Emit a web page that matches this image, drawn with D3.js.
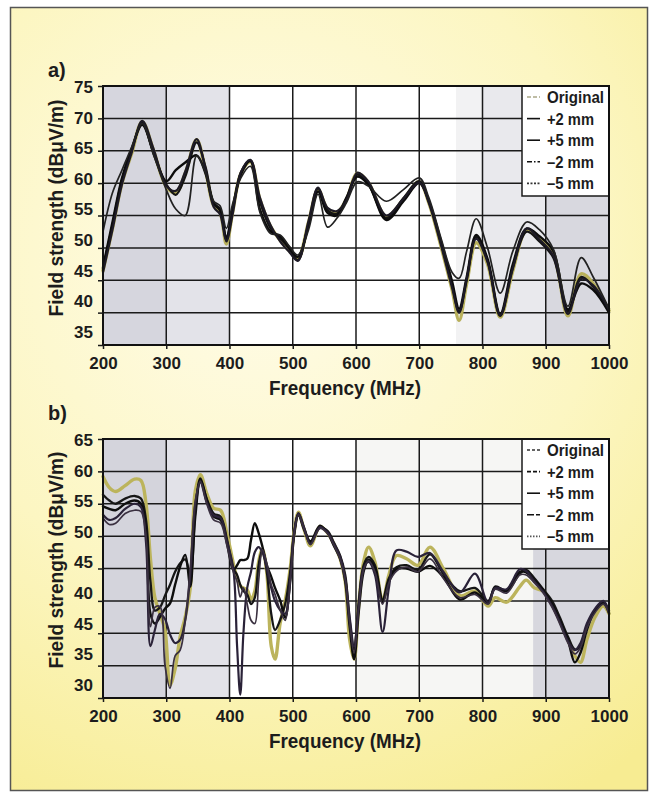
<!DOCTYPE html>
<html>
<head>
<meta charset="utf-8">
<script src="https://cdn.jsdelivr.net/npm/d3@7"></script>
<style>
  body { margin: 0; background: #fff; }
  text { font-family: "Liberation Sans", Arial, sans-serif; font-weight: bold; fill: #1c1c1c; }
</style>
</head>
<body>
<svg id="fig" width="657" height="799"></svg>
<script>
// ---- data ----
var seriesNames = ["Original", "+2 mm", "+5 mm", "\u20132 mm", "\u20135 mm"];
var xTicks = [200, 300, 400, 500, 600, 700, 800, 900, 1000];

var yTicksA = [75, 70, 65, 60, 55, 50, 45, 40, 35];
var yLabelsA = ["75", "70", "65", "60", "55", "50", "45", "40", "35"];
var yTicksB = [65, 60, 55, 50, 45, 40, 35, 30, 25];
var yLabelsB = ["65", "60", "55", "50", "45", "40", "45", "35", "30"];   // as printed

var freqA = [200,215,230,245,262,280,300,315,330,348,362,375,385,395,405,418,433,448,465,480,495,508,525,540,555,570,585,602,620,648,675,700,715,735,752,763,775,790,808,828,848,870,890,912,935,956,975,1000];
var origA = [46.5,53,60,64.5,69.5,65,59.5,58.5,61.5,66.7,62,56.5,55.5,50.6,55.5,61.5,63.3,57.5,53.3,51.2,49.5,48.3,54,59,56,55.5,57.5,61.5,60,54.8,57.5,60.2,57,50,43.5,38.8,44.5,50.8,47.5,39.3,46.5,52.8,51.5,49,39.5,46,44.5,40.3];
var p2A   = [46.8,53.5,60.5,65,69.3,64.5,59.8,58.2,61,66.3,62.5,57,56,51.3,55.8,61.3,63.4,57.2,53,51.5,49.8,48.1,53.8,59.2,55.8,55.3,57.8,61.3,59.8,54.6,57.7,60.3,57.2,50.5,44.2,40.2,45,51.7,48,39.5,47,52.5,51,48.5,40.2,45.5,44,40.6];
var p5A   = [47,54,60.8,65.2,69,64.8,60.3,62,63.2,64.3,61.5,56.8,55.8,51.6,56,61.6,63.5,56,52.5,51.8,50,48.6,53.5,58.7,55.4,55,57.6,61,59.7,54.3,57.2,60,57.3,50.8,44.8,40.6,45.5,52,48.3,39.8,47.5,53,51.8,49.5,40.5,44.5,43.5,40];
var m2A   = [46.2,52.8,59.8,64.6,69.6,65.3,59.6,58.8,61.8,66.8,62.2,56.3,55.2,51,55.2,61.7,63.6,57.8,53.5,51,49.3,48,54.2,59.3,56.2,55.7,57.4,61.6,60.2,55,57.6,60.1,57,50.2,43.8,40,45.2,51.4,47.8,39.6,46.8,53,51.3,48.8,39.8,45.2,44.2,40.4];
var m5A   = [52.5,58.5,62,65.5,69.2,64.4,59,56,55,64.2,61.6,57.2,56.5,53,56.8,60.8,62.6,55.5,52.2,52,50.2,48.9,52.8,58.3,53.2,54.6,57,60.2,59.5,57.2,59,60.8,57.8,51.3,46.2,45.3,49.5,54.5,50,43,49.5,54,52.8,49.8,41,48.5,45.5,40.6];

var freqB = [200,210,220,235,250,260,268,275,282,290,298,306,314,322,330,338,346,354,364,375,386,396,406,412,417,422,428,434,440,446,452,459,466,472,480,488,496,502,509,518,528,543,555,565,575,583,590,597,604,612,620,630,642,652,664,680,698,717,738,764,788,809,820,838,859,869,882,896,910,922,935,946,955,965,978,991,1000];
var origB = [59.2,57.5,56.9,57.8,58.8,58.6,55,46.5,40.5,38,35.5,27,29.5,34.5,37.5,42,57,59.5,56.6,54.3,54,50.4,45.8,43.5,42.3,42,41.7,40.3,41.5,46,48,44.3,33,31,36.5,40,45,50.5,53.7,51,48.5,51.5,50.5,48.8,46.5,43,34,31,39,46,48.3,46,40,44,47,46.5,45.5,48.3,45,40.8,41.5,39.2,40.5,39.8,42.2,43.2,42,41.5,39.5,37,34,31.5,30.5,34,37.5,39.2,38];
var p2B   = [56.4,55.5,55,55.8,56.2,55.8,52.5,43,38.5,39,40.8,42.5,44.5,45.8,46.4,44,53,58.6,55.8,53.5,53,49.5,45,44,42.5,41.5,41,39.5,40.5,45.5,48,44.5,38,35.5,37,39.5,44.5,50.3,53.5,51.2,49,51.3,50.8,49,47,44,37,32.5,39.5,45.5,46.8,45.5,40.2,43.5,45.2,45.5,44.8,47.2,44.2,41.5,42,40,42,41.5,44.2,44.8,43.5,41.8,40,37.5,34.5,32.5,33,36,38.5,39.8,38.5];
var p5B   = [54.6,54.2,54,55,55.5,55,51,38,36.5,37.5,38.8,39.6,42.5,45.3,47.1,42.2,54,58.9,55.6,53,52.5,48.9,44.8,45.5,46.3,46.3,46.5,49.4,52,50.5,48.4,45.5,43.7,42,40.1,37.4,43,50,53.3,51,49.2,51.6,50.5,48.5,46.5,43,36,31,38,44.5,46.4,45,39.8,43,44.9,45,44.5,45.4,43.7,40.2,41.3,39.7,42.2,41.6,44.5,44.4,43.2,41.6,39.5,37,34,30.5,32,35.5,38.6,39.7,38.1];
var m2B   = [53.3,52.5,52.8,54.2,55,54.5,49,33,35.5,38,37.2,34.8,33.5,34,37,44,55,58.3,55.2,53.2,52.8,49.2,45,33,25.5,35,42,44.5,47.5,48.3,47.5,45,42,40,38.6,38,43.5,50.5,53.5,51.3,48.8,51.4,50.6,48.8,46.8,43.5,37.5,33,39,45,46,44,35.2,42,47.8,47.6,46.8,47.4,44.5,41.3,44.2,39.7,42,41.8,44.9,44.6,43,41.4,39.2,36.8,33.8,32.4,33.5,36.5,38.8,40,38.3];
var m5B   = [52.8,51.8,52,53.5,54,53.8,50,36,39,39.1,30,26.5,31.5,32.4,37,45,55.5,58.5,55,52.5,52,48.5,44.5,43,40.6,42,39.5,37,36.5,43,47.9,45.8,42.5,41,38.6,37,42.9,50,53.3,51,48.7,51.2,50.4,48.6,46.4,43.2,36.5,32,38.5,44.8,46.2,44.5,39.5,42.8,44.6,45.2,44.5,46.5,43.5,40.5,41,39.5,41.8,41.2,44,44,42.8,41.2,39,36.5,33.5,31.8,32.8,35.8,38.2,39.5,38];

// ---- page ----
var svg = d3.select("#fig");
var defs = svg.append("defs");

var bg = defs.append("radialGradient").attr("id", "bg")
    .attr("gradientUnits", "userSpaceOnUse").attr("cx", 260).attr("cy", 260).attr("r", 620);
bg.append("stop").attr("offset", 0).attr("stop-color", "#fffcea");
bg.append("stop").attr("offset", 0.55).attr("stop-color", "#fcf6c2");
bg.append("stop").attr("offset", 1).attr("stop-color", "#f7ec92");

svg.append("rect")
    .attr("x", 10.5).attr("y", 7.5).attr("width", 637).attr("height", 783)
    .attr("fill", "url(#bg)").attr("stroke", "#555").attr("stroke-width", 1.5);

var left = 103, right = 609;

var x = d3.scaleLinear().domain([200, 1000]).range([left, right]);
var line = d3.line().curve(d3.curveCatmullRom.alpha(0.5));

var styles = [
  {color: "#b8b05a", width: 3.4},
  {color: "#141414", width: 2.3},
  {color: "#0c0c0c", width: 2.4},
  {color: "#1d1a26", width: 2.2},
  {color: "#222", width: 1.7}
];

// legend label widths as measured on the picture
var legendWidths = [57, 47, 47, 47, 47];

function drawPanel(p) {
  var g = svg.append("g");
  var y = d3.scaleLinear().domain(p.domain).range([p.bottom, p.top]);
  var yLab = d3.scaleLinear().domain(p.domain).range([p.bottom - 13, p.top + 1]);

  // plot background and grey bands
  g.append("rect").attr("x", left).attr("y", p.top)
      .attr("width", right - left).attr("height", p.bottom - p.top).attr("fill", "#fff");
  p.bands.forEach(function(b) {
    g.append("rect")
        .attr("x", x(b[0])).attr("y", p.top)
        .attr("width", x(b[1]) - x(b[0])).attr("height", p.bottom - p.top)
        .attr("fill", b[2]);
  });

  // grid
  g.append("g").selectAll("line").data(xTicks).enter().append("line")
      .attr("x1", function(d) { return x(d); }).attr("x2", function(d) { return x(d); })
      .attr("y1", p.top).attr("y2", p.bottom)
      .attr("stroke", "#1a1a1a").attr("stroke-width", 1.5);
  g.append("g").selectAll("line").data(p.yTicks).enter().append("line")
      .attr("x1", left).attr("x2", right)
      .attr("y1", function(d) { return y(d); }).attr("y2", function(d) { return y(d); })
      .attr("stroke", "#1a1a1a").attr("stroke-width", 1.5);

  // curves
  var cg = g.append("g").attr("fill", "none")
      .attr("stroke-linejoin", "round").attr("stroke-linecap", "round");
  p.series.forEach(function(vals, i) {
    cg.append("path")
        .attr("stroke", p.colors ? p.colors[i] : styles[i].color)
        .attr("stroke-width", styles[i].width)
        .attr("d", line(vals.map(function(v, j) { return [x(p.freq[j]), y(v)]; })));
  });

  // legend
  var lx = 522, lh = 110;
  var lg = g.append("g");
  lg.append("rect").attr("x", lx).attr("y", p.top)
      .attr("width", right - lx).attr("height", lh)
      .attr("fill", "#fff").attr("stroke", "#1a1a1a").attr("stroke-width", 1.5);
  seriesNames.forEach(function(name, i) {
    var cy = p.top + 11 + i * 21.6;
    lg.append("line").attr("x1", lx + 5).attr("x2", lx + 18)
        .attr("y1", cy).attr("y2", cy)
        .attr("stroke", p.legendColors[i]).attr("stroke-width", 1.6)
        .attr("stroke-dasharray", p.dashes[i]);
    lg.append("text").attr("x", lx + 25).attr("y", cy + 6)
        .attr("textLength", legendWidths[i]).attr("lengthAdjust", "spacingAndGlyphs")
        .style("font-size", "17px")
        .text(name);
  });

  // frame
  g.append("rect").attr("x", left).attr("y", p.top)
      .attr("width", right - left).attr("height", p.bottom - p.top)
      .attr("fill", "none").attr("stroke", "#111").attr("stroke-width", 2);

  // axes
  var ax = g.append("g")
      .attr("transform", "translate(0," + p.bottom + ")")
      .call(d3.axisBottom(x).tickValues(xTicks).tickSize(4).tickPadding(8).tickFormat(d3.format("d")));
  var ay = g.append("g")
      .attr("transform", "translate(" + left + ",0)")
      .call(d3.axisLeft(y).tickValues(p.yTicks).tickSize(5).tickPadding(5)
        .tickFormat(function(d, i) { return p.yLabels[i]; }));
  ay.selectAll(".tick text").attr("y", function(d) { return yLab(d) - y(d); });
  [ax, ay].forEach(function(a) {
    a.select(".domain").remove();
    a.selectAll(".tick line").attr("stroke", "#1a1a1a").attr("stroke-width", 1.5);
    a.selectAll(".tick text")
        .attr("fill", "#1c1c1c")
        .style("font-family", "'Liberation Sans', Arial, sans-serif")
        .style("font-weight", "bold").style("font-size", "17px");
  });

  // titles
  g.append("text").attr("x", 345).attr("y", p.bottom + 50)
      .attr("text-anchor", "middle").style("font-size", "20px")
      .attr("textLength", 152).attr("lengthAdjust", "spacingAndGlyphs")
      .text("Frequency (MHz)");
  g.append("text")
      .attr("transform", "translate(63," + p.ymid + ") rotate(-90)")
      .attr("text-anchor", "middle").style("font-size", "20px")
      .attr("textLength", 217).attr("lengthAdjust", "spacingAndGlyphs")
      .text("Field strength (dB\u03bcV/m)");
  g.append("text").attr("x", 48).attr("y", p.letterY)
      .style("font-size", "20px").text(p.letter);
}

drawPanel({
  letter: "a)", letterY: 77, top: 86, bottom: 345, ymid: 208,
  domain: [35, 75], yTicks: yTicksA, yLabels: yLabelsA,
  freq: freqA, series: [origA, p2A, p5A, m2A, m5A],
  bands: [[200, 300, "#d6d6de"], [300, 400, "#e3e3e9"], [758, 800, "#f2f2f3"], [800, 900, "#e9e9ed"], [900, 1000, "#d8d8df"]],
  legendColors: ["#aaa888", "#111", "#111", "#111", "#333"],
  dashes: ["4,2", null, null, "5,2,1.5,2", "2,1.5"]
});

drawPanel({
  letter: "b)", letterY: 420, top: 439, bottom: 698, ymid: 560,
  domain: [25, 65], yTicks: yTicksB, yLabels: yLabelsB,
  freq: freqB, series: [origB, p2B, p5B, m2B, m5B],
  colors: ["#bcb45c", "#161616", "#0e0e0e", "#2a2238", "#3a3040"],
  bands: [[200, 300, "#d4d4dc"], [300, 400, "#e2e2e8"], [600, 880, "#f6f6f4"], [880, 1000, "#d7d7de"]],
  legendColors: ["#333", "#111", "#111", "#111", "#555"],
  dashes: ["3,2", "4,2", null, "7,2", "1.5,1.5"]
});
</script>
</body>
</html>
